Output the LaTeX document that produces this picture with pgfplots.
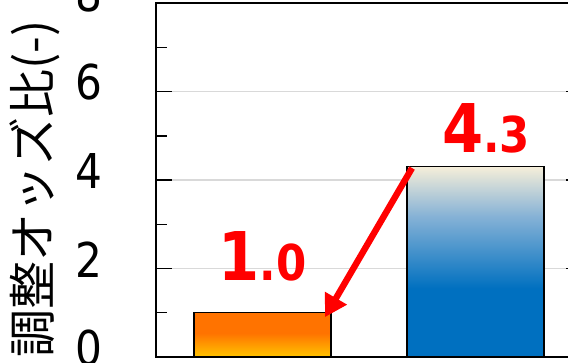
\documentclass[border=0pt]{standalone}
\usepackage{fontspec}
\setmainfont[FakeStretch=0.88]{DejaVu Sans}
\newfontfamily\jpfont{Noto Sans CJK JP}
\usepackage{pgfplots}
\pgfplotsset{compat=1.18}
\usetikzlibrary{arrows.meta}

\definecolor{barorange}{HTML}{FF7300}
\definecolor{baryellow}{HTML}{FFC400}
\definecolor{barblue}{HTML}{0070C0}
\definecolor{barmid}{HTML}{86B2D6}
\definecolor{barcream}{HTML}{F5EED9}
\definecolor{gridgray}{HTML}{D9D9D9}

% vertical fills: 25bp = bar bottom, 75bp = bar top
\pgfdeclareverticalshading{orangeshade}{100bp}{color(0bp)=(baryellow); color(25bp)=(baryellow); color(52bp)=(barorange); color(100bp)=(barorange)}
\pgfdeclareverticalshading{blueshade}{100bp}{color(0bp)=(barblue); color(43bp)=(barblue); color(62bp)=(barmid); color(75bp)=(barcream); color(100bp)=(barcream)}

\begin{document}
\begin{tikzpicture}
\path[use as bounding box] (0,0) rectangle (284pt,181.5pt);
\clip (0,0) rectangle (284pt,181.5pt);
\begin{axis}[
  at={(78pt,3pt)}, anchor=south west,
  scale only axis, width=213pt, height=177pt,
  xmin=-0.5, xmax=1.5, ymin=0, ymax=8,
  xtick=\empty,
  ytick={0,2,4,6,8}, minor ytick={1,3,5,7},
  ymajorgrids, major grid style={gridgray, line width=0.75pt},
  tick align=inside, major tick length=8pt, minor tick length=5.5pt,
  every tick/.style={black, line width=0.75pt},
  axis line style={line width=1pt},
  /pgf/number format/assume math mode=true,
  yticklabel style={font=\fontsize{24}{24}\selectfont, anchor=east, inner sep=0pt, xshift=-26.5pt, yshift=4.5pt},
  ylabel={\jpfont 調整オッズ比(-)},
  ylabel style={font=\fontsize{24}{24}\selectfont, at={(axis description cs:-0.284,0.475)}, anchor=center},
]
\addplot[ybar, bar width=0.643, bar shift=0pt, draw=black, line width=0.75pt, shade, shading=orangeshade] coordinates {(0,1.0)};
\addplot[ybar, bar width=0.643, bar shift=0pt, draw=black, line width=0.75pt, shade, shading=blueshade] coordinates {(1,4.3)};

\draw[red, line width=3.2pt, -{Triangle[length=11pt, width=12pt]}] (axis cs:0.702,4.27) -- (axis cs:0.293,0.90);

\node[anchor=base, text=red, font=\bfseries, inner sep=0pt] at (axis cs:0,1.72)
  {\fontsize{33.6}{34}\selectfont 1\fontsize{24.7}{25}\selectfont.0};
\node[anchor=base, text=red, font=\bfseries, inner sep=0pt] at (axis cs:1.05,4.63)
  {\fontsize{33.6}{34}\selectfont 4\fontsize{24.7}{25}\selectfont.3};
\end{axis}
\end{tikzpicture}
\end{document}
